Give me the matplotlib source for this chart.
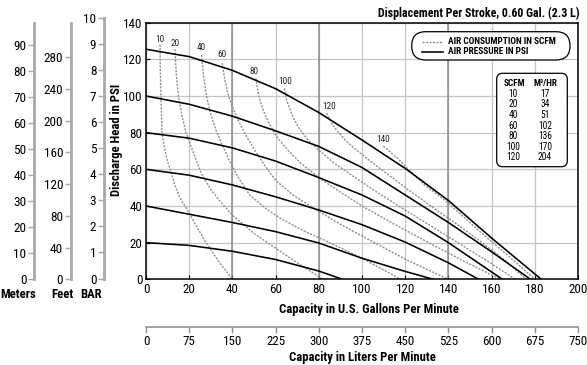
import matplotlib
matplotlib.use('Agg')
import matplotlib.pyplot as plt
from matplotlib import font_manager as fm
from matplotlib.patches import FancyBboxPatch

W, H = 587, 365

_names = {f.name for f in fm.fontManager.ttflist}
FAM, FAC = 'Liberation Sans', 1.0
for _nm, _fac in [('Liberation Sans Narrow', 0.82), ('Arial Narrow', 0.82),
                  ('Roboto Condensed', 0.9)]:
    if _nm in _names:
        FAM, FAC = _nm, _fac
        break
plt.rcParams['font.family'] = [FAM, 'DejaVu Sans']


def fs(size):
    """font size giving roughly the same text width as Arial at `size`"""
    return size / FAC


# ---------------- data ----------------
gpm_ticks = list(range(0, 201, 20))
psi_ticks = list(range(0, 141, 20))
lpm_ticks = list(range(0, 751, 75))
meter_ticks = list(range(0, 91, 10))
feet_ticks = list(range(0, 281, 40))
bar_ticks = list(range(0, 11))
dark_grid_gpm = [40, 80, 140]

# air pressure curves (solid)
psi20_gpm = [0, 20, 40, 60, 80, 91]
psi20_head = [20, 18.5, 15.3, 10.8, 4.5, 0]
psi40_gpm = [0, 20, 40, 60, 80, 100, 120, 133]
psi40_head = [40, 35.5, 31, 26, 19.8, 11.5, 4.3, 0]
psi60_gpm = [0, 20, 40, 60, 80, 100, 120, 140, 154]
psi60_head = [60, 56.8, 51.5, 45, 37.8, 29.8, 20.3, 9, 0]
psi80_gpm = [0, 20, 40, 60, 80, 100, 120, 140, 165]
psi80_head = [80, 77, 71.7, 64.5, 55.5, 46, 34.5, 20, 0]
psi100_gpm = [0, 20, 40, 60, 80, 100, 120, 140, 160, 178]
psi100_head = [100, 95.5, 89, 81, 72.5, 61, 46, 31, 15, 0]
psi120_gpm = [0, 20, 40, 60, 80, 100, 120, 140, 160, 183]
psi120_head = [125.5, 121.5, 114, 104, 91, 76, 60.5, 43, 22.5, 0]

# air consumption curves (dashed)
scfm10_gpm = [6.5, 6.6, 6.9, 7.4, 8.5, 10, 11.5, 13.5, 15.5, 20, 27, 33.2, 40]
scfm10_head = [128, 115, 100, 80, 72, 64, 59, 51, 45, 36, 21.5, 10.5, 0]
scfm20_gpm = [13.4, 14, 15, 16.5, 18.5, 21, 25.5, 30, 35, 40, 50, 60, 70, 82]
scfm20_head = [125.5, 112, 100, 90, 80, 72, 58, 49, 41.5, 35, 25, 17, 9, 0]
scfm40_gpm = [25.8, 26.5, 28, 30, 32.5, 35, 38.5, 42.5, 48, 55, 62, 72, 85, 100, 118]
scfm40_head = [122.4, 112, 100, 90, 81, 74, 65, 56, 46, 39, 33.5, 27, 20, 11.5, 0]
scfm60_gpm = [35.3, 36.3, 38, 40, 43, 46.5, 50, 55, 60, 68, 78, 90, 105, 120, 140]
scfm60_head = [118, 110, 101, 94, 86, 78, 71, 62, 54, 46, 38.5, 30, 20.5, 11, 0]
scfm80_gpm = [50.9, 52, 54, 57, 61, 66, 72, 80, 90, 100, 115, 130, 147, 164]
scfm80_head = [109.7, 101, 93, 85, 77, 70, 63, 55.5, 47.5, 40, 30, 20.5, 10, 0]
scfm100_gpm = [64, 65.3, 67.5, 70.5, 75, 80.5, 87, 95, 105, 117, 130, 145, 158, 171]
scfm100_head = [104.2, 97, 90, 83, 76, 70, 63.5, 57, 49, 40, 30.5, 19.5, 10, 0]
scfm120_gpm = [83.6, 85.5, 88.5, 93, 99, 106, 114, 123, 133, 144, 155, 165.5, 176]
scfm120_head = [90.6, 86, 81, 75, 69, 62.5, 55.5, 47.5, 39, 30, 20.5, 11, 0]
scfm140_gpm = [109.9, 113, 116.5, 121, 129, 138.5, 148, 158, 169, 180]
scfm140_head = [72.7, 69.5, 66, 60.5, 51.5, 43, 33, 22.5, 11.5, 0]

scfm_labels = ['10', '20', '40', '60', '80', '100', '120', '140']
scfm_label_gpm = [6.2, 13.4, 25.8, 35, 50, 64.5, 84.7, 109.9]
scfm_label_head = [131, 128.7, 126.6, 122.7, 113.3, 107.8, 94.2, 76.3]

table_scfm = [10, 20, 40, 60, 80, 100, 120]
table_m3hr = [17, 34, 51, 102, 136, 170, 204]

title_text = 'Displacement Per Stroke, 0.60 Gal. (2.3 L)'
legend_texts = ['AIR CONSUMPTION IN SCFM', 'AIR PRESSURE IN PSI']

# ---------------- figure ----------------
fig = plt.figure(figsize=(W / 100, H / 100), dpi=100)


def fx(px):
    return px / W


def fy(py):
    return 1 - py / H


L, R, T, B = 146, 578, 22.7, 279.3
ax = fig.add_axes([fx(L), fy(B), (R - L) / W, (B - T) / H])
ax.set_xlim(0, 200)
ax.set_ylim(0, 140)
ax.set_xticks(gpm_ticks)
ax.set_yticks(psi_ticks)
ax.grid(True, color='#c4c4c4', lw=0.9)
ax.set_axisbelow(True)
for g in dark_grid_gpm:
    ax.axvline(g, color='#8c8c8c', lw=1.1, zorder=0.8)
for s in ax.spines.values():
    s.set_color('black')
    s.set_linewidth(1.1)
ax.tick_params(direction='in', length=3, width=0.8, labelsize=fs(8.4), pad=2.5)

solid = [(psi20_gpm, psi20_head), (psi40_gpm, psi40_head), (psi60_gpm, psi60_head),
         (psi80_gpm, psi80_head), (psi100_gpm, psi100_head), (psi120_gpm, psi120_head)]
dashed = [(scfm10_gpm, scfm10_head), (scfm20_gpm, scfm20_head), (scfm40_gpm, scfm40_head),
          (scfm60_gpm, scfm60_head), (scfm80_gpm, scfm80_head), (scfm100_gpm, scfm100_head),
          (scfm120_gpm, scfm120_head), (scfm140_gpm, scfm140_head)]
for xs, ys in dashed:
    ax.plot(xs, ys, color='#8e8e8e', lw=1.0, ls=(0, (1.5, 1.0)), zorder=2)
for xs, ys in solid:
    ax.plot(xs, ys, color='black', lw=1.15, zorder=3, solid_joinstyle='round')
for t, x, y in zip(scfm_labels, scfm_label_gpm, scfm_label_head):
    ax.text(x, y, t, fontsize=fs(6.0), ha='center', va='center', color='#222222', zorder=4)

# liters axis
ax2 = fig.add_axes([fx(L), fy(326.7), (R - L) / W, 0.0001])
ax2.set_xlim(0, 750)
ax2.set_xticks(lpm_ticks)
ax2.set_yticks([])
for k in ['top', 'left', 'right']:
    ax2.spines[k].set_visible(False)
ax2.spines['bottom'].set_color('#909090')
ax2.spines['bottom'].set_linewidth(1.2)
ax2.tick_params(axis='x', direction='out', length=4, color='#909090', width=1,
                labelsize=fs(8.4), pad=2)
ax2.patch.set_visible(False)


def side_scale(xpx, top, bottom, lim, ticks):
    a = fig.add_axes([fx(xpx), fy(bottom), 0.0001, (bottom - top) / H])
    a.set_ylim(*lim)
    a.set_yticks(ticks)
    a.set_xticks([])
    for k in ['top', 'right', 'bottom']:
        a.spines[k].set_visible(False)
    a.spines['left'].set_color('#a8a8a8')
    a.spines['left'].set_linewidth(2)
    a.tick_params(axis='y', length=4, width=1, color='#a8a8a8', labelsize=fs(8.6), pad=1.5)
    a.patch.set_visible(False)
    return a


side_scale(34, T, B, (0, 140 * 0.70307), meter_ticks)
side_scale(70.7, T, B, (0, 140 * 2.31), feet_ticks)
side_scale(104, 18.3, 278.5, (0, 10), bar_ticks)

bold = dict(fontweight='bold', fontsize=fs(8.2))
fig.text(fx(18.3), fy(294), 'Meters', ha='center', va='center', **bold)
fig.text(fx(62.5), fy(294), 'Feet', ha='center', va='center', **bold)
fig.text(fx(91), fy(294), 'BAR', ha='center', va='center', **bold)
fig.text(fx(116.7), fy(140), 'Discharge Head in PSI', rotation=90, ha='center', va='center', **bold)
fig.text(fx(368.5), fy(309), 'Capacity in U.S. Gallons Per Minute', ha='center', va='center', **bold)
fig.text(fx(362.5), fy(357), 'Capacity in Liters Per Minute', ha='center', va='center', **bold)
fig.text(fx(580), fy(13.3), title_text, ha='right', va='center',
         fontweight='bold', fontsize=fs(7.7))

# overlay in pixel coordinates for legend and table boxes
ov = fig.add_axes([0, 0, 1, 1])
ov.set_xlim(0, W)
ov.set_ylim(H, 0)
ov.axis('off')
ov.patch.set_visible(False)

ov.add_patch(FancyBboxPatch((411.7, 31.7), 158.3, 28.3, boxstyle='round,pad=0,rounding_size=14',
                            fc='white', ec='black', lw=0.9))
ov.plot([421.7, 443], [41.7, 41.7], color='#8e8e8e', lw=1.0, ls=(0, (1.5, 1.0)))
ov.plot([421.7, 443], [51.7, 51.7], color='black', lw=1.15)
ov.text(448, 41.7, legend_texts[0], fontsize=fs(6.1), fontweight='bold', ha='left', va='center')
ov.text(448, 52, legend_texts[1], fontsize=fs(6.1), fontweight='bold', ha='left', va='center')

ov.add_patch(FancyBboxPatch((496.7, 73.3), 70.6, 93.4, boxstyle='round,pad=0,rounding_size=6',
                            fc='white', ec='black', lw=0.9))
ov.text(514, 84, 'SCFM', fontsize=fs(6.0), fontweight='bold', ha='center', va='center')
ov.text(545, 84, 'M³/HR', fontsize=fs(6.0), fontweight='bold', ha='center', va='center',
        family=[FAM, 'DejaVu Sans'])
for i, (a_, b_) in enumerate(zip(table_scfm, table_m3hr)):
    yy = 93.8 + i * 10.6
    ov.text(513, yy, str(a_), fontsize=fs(6.2), ha='center', va='center')
    ov.text(545, yy, str(b_), fontsize=fs(6.2), ha='center', va='center')

fig.savefig('out.png', dpi=100)
